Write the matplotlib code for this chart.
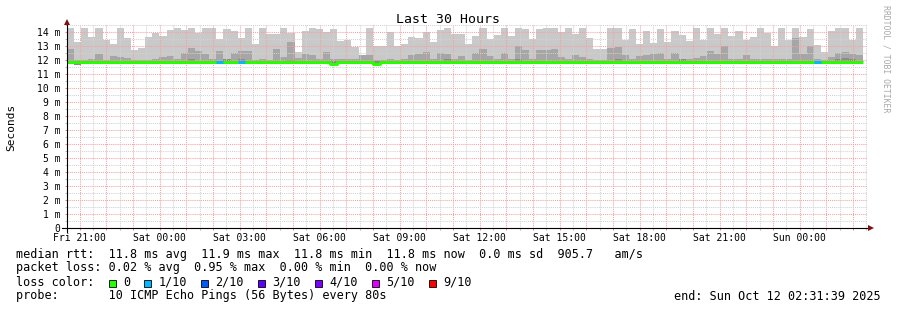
import numpy as np
import matplotlib
matplotlib.use("Agg")
import matplotlib.pyplot as plt
import matplotlib.dates as mdates
from matplotlib.patches import Rectangle
from matplotlib.ticker import FuncFormatter, MultipleLocator
from datetime import datetime, timedelta

# time range of the graph (30 hours, 16 minute consolidation steps)
start = datetime(2025, 10, 10, 20, 31, 39)
end = datetime(2025, 10, 12, 2, 31, 39)
step_minutes = 16

# smoke layers in ms, one value per step
smoke_max = [
    14.29, 13.29, 14.29, 13.67, 14.29, 13.43, 13.14, 14.29, 13.55, 12.71, 12.88, 13.67,
    13.95, 13.71, 14.14, 14.29, 14.14, 14.29, 13.90, 14.29, 14.29, 13.48, 14.20, 14.07,
    13.55, 14.29, 13.14, 14.29, 13.86, 13.86, 14.29, 13.95, 12.55, 14.05, 14.29, 14.20,
    14.00, 14.20, 13.33, 13.40, 12.93, 12.33, 14.29, 13.00, 13.00, 14.00, 13.00, 13.14,
    13.64, 13.57, 14.00, 13.29, 14.14, 14.29, 13.86, 13.86, 13.14, 13.71, 14.29, 13.52,
    13.81, 14.29, 13.71, 14.29, 14.20, 13.52, 14.20, 14.29, 14.29, 14.00, 14.29, 13.86,
    14.29, 13.57, 12.81, 12.81, 14.29, 14.29, 13.45, 14.20, 13.14, 14.05, 13.20, 14.20,
    13.29, 14.05, 13.76, 13.33, 14.29, 13.45, 14.29, 13.86, 14.29, 13.71, 14.05, 13.45,
    13.64, 14.29, 13.95, 13.00, 14.29, 13.45, 14.29, 13.64, 14.20, 13.05, 12.57, 14.10,
    14.29, 14.29, 13.45, 14.29,
]
smoke_mid = [
    12.79, 12.00, 12.02, 12.07, 12.43, 12.00, 12.29, 12.24, 12.14, 11.98, 12.00, 12.00,
    12.05, 12.24, 12.29, 12.05, 12.48, 12.86, 12.67, 12.43, 12.05, 12.64, 12.05, 12.52,
    12.64, 12.64, 12.00, 12.05, 12.00, 12.76, 12.21, 13.29, 12.17, 12.43, 12.38, 12.05,
    12.57, 12.05, 12.05, 12.05, 12.10, 12.38, 12.33, 12.02, 12.00, 12.05, 12.02, 12.05,
    12.33, 12.40, 12.57, 12.05, 12.52, 12.43, 12.05, 12.26, 12.02, 12.48, 12.81, 12.26,
    12.05, 12.48, 12.05, 13.00, 12.71, 12.05, 12.71, 12.71, 12.76, 12.21, 12.10, 12.33,
    12.21, 12.05, 12.02, 12.02, 12.86, 12.95, 12.33, 12.05, 12.26, 12.33, 12.43, 12.50,
    12.05, 12.52, 12.05, 12.05, 12.14, 12.26, 12.62, 12.40, 13.00, 12.05, 12.10, 12.33,
    12.10, 12.10, 12.10, 12.10, 12.10, 12.10, 13.57, 12.43, 13.00, 12.05, 11.98, 12.19,
    12.52, 12.57, 12.43, 12.38,
]
smoke_core = [
    11.95, 11.95, 11.95, 11.95, 11.95, 11.95, 11.95, 11.95, 11.95, 11.95, 11.95, 11.95,
    11.95, 11.95, 11.95, 11.95, 11.95, 12.10, 11.95, 11.95, 11.95, 11.95, 12.08, 11.95,
    12.10, 11.95, 11.95, 11.95, 11.95, 11.95, 11.95, 11.98, 11.95, 11.95, 11.95, 11.95,
    11.95, 11.95, 11.95, 11.95, 11.95, 11.95, 11.95, 11.95, 11.95, 11.95, 11.95, 11.95,
    11.95, 11.95, 11.95, 11.95, 11.95, 12.05, 11.95, 11.95, 11.95, 11.95, 11.95, 11.95,
    11.95, 11.95, 11.95, 12.10, 11.95, 11.95, 11.95, 11.95, 11.95, 11.95, 11.95, 11.95,
    11.95, 11.95, 11.95, 11.95, 11.95, 12.05, 11.95, 11.95, 11.95, 11.95, 11.95, 11.95,
    11.95, 11.95, 12.05, 11.95, 11.95, 11.95, 11.95, 11.95, 11.95, 11.95, 11.95, 11.95,
    11.95, 11.95, 11.95, 11.95, 11.95, 11.95, 11.95, 11.95, 11.95, 11.95, 11.95, 11.95,
    12.10, 12.15, 12.10, 11.95,
]
smoke_min = [
    11.74, 11.64, 11.74, 11.74, 11.74, 11.74, 11.74, 11.74, 11.74, 11.72, 11.72, 11.72,
    11.72, 11.74, 11.74, 11.74, 11.74, 11.74, 11.74, 11.74, 11.74, 11.74, 11.74, 11.74,
    11.74, 11.74, 11.74, 11.74, 11.74, 11.74, 11.74, 11.74, 11.74, 11.74, 11.74, 11.74,
    11.74, 11.66, 11.74, 11.74, 11.74, 11.74, 11.74, 11.66, 11.74, 11.74, 11.74, 11.74,
    11.74, 11.74, 11.74, 11.74, 11.74, 11.74, 11.74, 11.74, 11.74, 11.74, 11.74, 11.74,
    11.74, 11.74, 11.74, 11.74, 11.74, 11.74, 11.74, 11.74, 11.74, 11.74, 11.74, 11.74,
    11.74, 11.74, 11.74, 11.74, 11.74, 11.74, 11.74, 11.74, 11.74, 11.74, 11.74, 11.74,
    11.74, 11.74, 11.74, 11.74, 11.74, 11.74, 11.74, 11.74, 11.74, 11.74, 11.74, 11.74,
    11.74, 11.74, 11.74, 11.74, 11.74, 11.74, 11.74, 11.74, 11.74, 11.74, 11.74, 11.74,
    11.74, 11.74, 11.74, 11.74,
]
median = [
    11.83, 11.83, 11.83, 11.83, 11.83, 11.83, 11.83, 11.83, 11.83, 11.83, 11.83, 11.83,
    11.83, 11.83, 11.83, 11.83, 11.83, 11.83, 11.83, 11.83, 11.83, 11.83, 11.83, 11.83,
    11.83, 11.83, 11.83, 11.83, 11.83, 11.83, 11.83, 11.83, 11.83, 11.83, 11.83, 11.83,
    11.83, 11.71, 11.83, 11.83, 11.83, 11.83, 11.83, 11.71, 11.83, 11.83, 11.83, 11.83,
    11.83, 11.83, 11.83, 11.83, 11.83, 11.83, 11.83, 11.83, 11.83, 11.83, 11.83, 11.83,
    11.83, 11.83, 11.83, 11.83, 11.83, 11.83, 11.83, 11.83, 11.83, 11.83, 11.83, 11.83,
    11.83, 11.83, 11.83, 11.83, 11.83, 11.83, 11.83, 11.83, 11.83, 11.83, 11.83, 11.83,
    11.83, 11.83, 11.83, 11.83, 11.83, 11.83, 11.83, 11.83, 11.83, 11.83, 11.83, 11.83,
    11.83, 11.83, 11.83, 11.83, 11.83, 11.83, 11.83, 11.83, 11.83, 11.83, 11.83, 11.83,
    11.83, 11.83, 11.83, 11.83,
]
# steps with lost pings (index, pings lost out of 10)
loss_steps = [21, 24, 105]
loss_counts = [1, 1, 1]

loss_labels = ["0", "1/10", "2/10", "3/10", "4/10", "5/10", "9/10"]
loss_colors = ["#26ff00", "#00b8ff", "#0059ff", "#5e00ff", "#7e00ff", "#dd00ff", "#ff0000"]

stats_lines = [
    "median rtt:  11.8 ms avg  11.9 ms max  11.8 ms min  11.8 ms now  0.0 ms sd  905.7   am/s",
    "packet loss: 0.02 % avg  0.95 % max  0.00 % min  0.00 % now",
]
probe_line = "probe:       10 ICMP Echo Pings (56 Bytes) every 80s"
end_line = "end: Sun Oct 12 02:31:39 2025"

W, H = 897, 310
MONO = "DejaVu Sans Mono"
plt.rcParams["font.family"] = MONO


def fxy(px, py):
    return px / W, 1 - py / H


fig = plt.figure(figsize=(W / 100, H / 100), dpi=100)
fig.patch.set_facecolor("white")
ax_l, ax_r, ax_b, ax_t = 67, 867, 228, 24
ax = fig.add_axes([ax_l / W, (H - ax_b) / H, (ax_r - ax_l) / W, (ax_b - ax_t) / H])

n = len(smoke_max)
edges = mdates.date2num([start + timedelta(minutes=step_minutes * i) for i in range(n + 1)])


def ext(v):
    return np.append(v, v[-1])


ax.fill_between(edges, ext(smoke_min), ext(smoke_max), step="post", color="#c9c9c9", lw=0, zorder=1)
ax.fill_between(edges, ext(smoke_min), ext(smoke_mid), step="post", color="#a6a6a6", lw=0, zorder=1.1)
ax.fill_between(edges, ext(smoke_min), ext(smoke_core), step="post", color="#8a8a8a", lw=0, zorder=1.2)

ax.step(edges, ext(median), where="post", color=loss_colors[0], lw=2.1, zorder=3,
        solid_capstyle="butt")
for i, c in zip(loss_steps, loss_counts):
    ax.hlines(median[i], edges[i], edges[i + 1], color=loss_colors[c], lw=2.1, zorder=3.1)

ax.set_xlim(mdates.date2num(start), mdates.date2num(end))
ymax = (ax_b - ax_t) / 14.0
ax.set_ylim(0, ymax)

# grid
ax.set_axisbelow(False)
ax.xaxis.set_major_locator(mdates.HourLocator())
ax.xaxis.set_minor_locator(mdates.MinuteLocator(byminute=[30]))
ax.xaxis.set_major_formatter(FuncFormatter(
    lambda v, p: mdates.num2date(v).strftime("%a %H:%M") if mdates.num2date(v).hour % 3 == 0 else ""))
ax.yaxis.set_major_locator(MultipleLocator(1))
ax.yaxis.set_minor_locator(MultipleLocator(0.5))
ax.yaxis.set_major_formatter(FuncFormatter(lambda v, p: "0" if v == 0 else f"{int(round(v))} m"))
ax.grid(which="major", color="#f4a3a3", linestyle=(0, (1, 1)), linewidth=0.75)
ax.grid(which="minor", color="#d2d2d2", linestyle=(0, (1, 1)), linewidth=0.75)
ax.tick_params(which="major", length=1.5, width=0.75, color="#f08080", labelsize=7, direction="out")
ax.tick_params(which="minor", length=1.5, width=0.75, color="#bbbbbb", direction="out")
ax.tick_params(axis="x", pad=2.2)
ax.tick_params(axis="y", pad=3.4)

for s in ax.spines.values():
    s.set_visible(False)

# axis lines with arrows
pw, ph = ax_r - ax_l, ax_b - ax_t
ax.plot([-5 / pw, 1 + 3 / pw], [0, 0], transform=ax.transAxes, color="black", lw=0.8,
        clip_on=False, zorder=4)
ax.plot([0, 0], [-4 / ph, 1 + 1 / ph], transform=ax.transAxes, color="black", lw=0.8,
        clip_on=False, zorder=4)
ax.plot([1 + 4 / pw], [0], marker=">", ms=4, color="#7f1010", transform=ax.transAxes,
        clip_on=False, zorder=5, mew=0)
ax.plot([0], [1 + 2 / ph], marker="^", ms=4, color="#7f1010", transform=ax.transAxes,
        clip_on=False, zorder=5, mew=0)

# titles and side texts
fig.text(*fxy(448, 19.5), "Last 30 Hours", ha="center", va="center", fontsize=9.5)
fig.text(*fxy(11, 127), "Seconds", ha="center", va="center", rotation=90, fontsize=8)
fig.text(*fxy(886, 59), "RRDTOOL / TOBI OETIKER", ha="center", va="center", rotation=270,
         fontsize=5.9, color="#a8a8a8")

# legend block
cw = 7.12
fs = 8.5
tx = 16
fig.text(*fxy(tx, 254.5), stats_lines[0], ha="left", va="center", fontsize=fs)
fig.text(*fxy(tx, 268), stats_lines[1], ha="left", va="center", fontsize=fs)
fig.text(*fxy(tx, 282), "loss color:", ha="left", va="center", fontsize=fs)
bx = tx + 13 * cw
for lab, col in zip(loss_labels, loss_colors):
    fig.add_artist(Rectangle(fxy(bx, 286.5), 7 / W, 7 / H, transform=fig.transFigure,
                             facecolor=col, edgecolor="black", lw=0.6))
    fig.text(*fxy(bx + 2 * cw, 282), lab, ha="left", va="center", fontsize=fs)
    bx += (4 + len(lab)) * cw
fig.text(*fxy(tx, 296), probe_line, ha="left", va="center", fontsize=fs)
fig.text(*fxy(881, 296), end_line, ha="right", va="center", fontsize=fs)

fig.savefig("out.png", dpi=100, facecolor="white")
